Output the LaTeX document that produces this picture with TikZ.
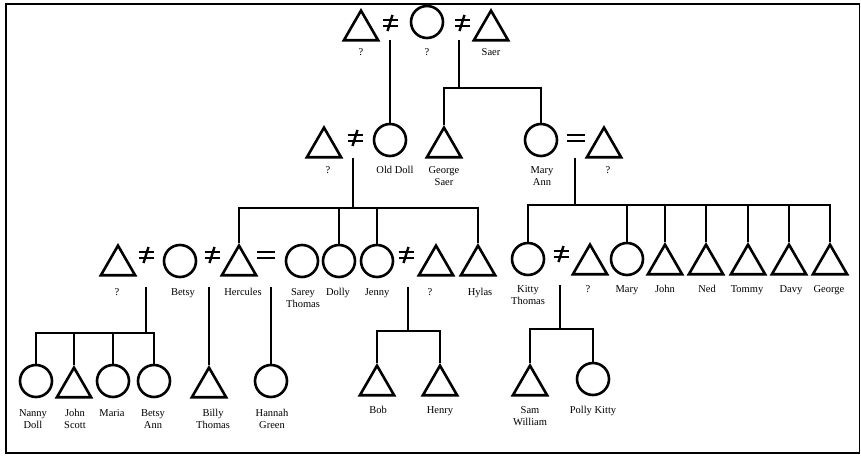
\documentclass[tikz,border=0pt]{standalone}
\usepackage{fontspec}
\setmainfont{Liberation Serif}
\usetikzlibrary{shapes.geometric}
\begin{document}
\begin{tikzpicture}[x=1pt,y=-1pt,
  lw/.style={line width=2.6pt},
  fem/.style={circle, draw, line width=2.6pt, minimum size=32pt, inner sep=0pt},
  male/.style={regular polygon, regular polygon sides=3, draw, line width=2.6pt, minimum size=39.5pt, inner sep=0pt, anchor=north},
  lab/.style={font=\fontsize{10.5}{12.5}\selectfont, align=center, inner sep=0pt, anchor=north},
  neqsym/.style={minimum width=16pt, minimum height=17pt, inner sep=0pt, path picture={
     \draw[line width=2.4pt] ([xshift=0.5pt,yshift=3.2pt]path picture bounding box.west) -- ([xshift=-0.5pt,yshift=3.2pt]path picture bounding box.east);
     \draw[line width=2.4pt] ([xshift=0.5pt,yshift=-3.2pt]path picture bounding box.west) -- ([xshift=-0.5pt,yshift=-3.2pt]path picture bounding box.east);
     \draw[line width=2.4pt] ([xshift=-2.5pt,yshift=-8pt]path picture bounding box.center) -- ([xshift=2.5pt,yshift=8pt]path picture bounding box.center);
  }},
  eqsym/.style={minimum width=18pt, minimum height=12pt, inner sep=0pt, path picture={
     \draw[line width=2.5pt] ([yshift=3.2pt]path picture bounding box.west) -- ([yshift=3.2pt]path picture bounding box.east);
     \draw[line width=2.5pt] ([yshift=-3.2pt]path picture bounding box.west) -- ([yshift=-3.2pt]path picture bounding box.east);
  }}
]
\useasboundingbox (0,0) rectangle (861,457);
\draw[line width=1.6pt] (6,4) rectangle (859.5,453);

% ---------- generation 1
\node[male] (g1a) at (361,8) {};
\node[neqsym] (m1) at (390,23) {};
\node[fem] (g1b) at (427,22) {};
\node[neqsym] (m2) at (462,23) {};
\node[male] (saer) at (491,8) {};
\node[lab] (l-g1a) at (361,48) {?};
\node[lab] (l-g1b) at (427,48) {?};
\node[lab] (l-saer) at (491,48) {Saer};

% ---------- generation 2
\node[male] (g2a) at (324,125) {};
\node[neqsym] (m3) at (355,138) {};
\node[fem] (olddoll) at (390,140) {};
\node[male] (georgesaer) at (444,125) {};
\node[fem] (maryann) at (541,140) {};
\node[eqsym] (m4) at (576,138) {};
\node[male] (g2b) at (604,125) {};
\node[lab] (l-g2a) at (328,166) {?};
\node[lab] (l-olddoll) at (395,166) {Old Doll};
\node[lab] (l-georgesaer) at (444,166) {George\\Saer};
\node[lab] (l-maryann) at (542,166) {Mary\\Ann};
\node[lab] (l-g2b) at (608,166) {?};

% ---------- generation 3
\node[male] (g3a) at (118,243) {};
\node[neqsym] (m5) at (146,255) {};
\node[fem] (betsy) at (180,261) {};
\node[neqsym] (m6) at (212,255) {};
\node[male] (hercules) at (239,243) {};
\node[eqsym] (m7) at (266,255) {};
\node[fem] (sarey) at (302,261) {};
\node[fem] (dolly) at (339,261) {};
\node[fem] (jenny) at (377,261) {};
\node[neqsym] (m8) at (406,255) {};
\node[male] (g3b) at (436,243) {};
\node[male] (hylas) at (478,243) {};

\node[fem] (kitty) at (528,259) {};
\node[neqsym] (m9) at (561,254) {};
\node[male] (g3c) at (590,242) {};
\node[fem] (mary) at (627,259) {};
\node[male] (john) at (665,242) {};
\node[male] (ned) at (706,242) {};
\node[male] (tommy) at (748,242) {};
\node[male] (davy) at (789,242) {};
\node[male] (george) at (830,242) {};

\node[lab] (l-g3a) at (117,288) {?};
\node[lab] (l-betsy) at (183,288) {Betsy};
\node[lab] (l-hercules) at (243,288) {Hercules};
\node[lab] (l-sarey) at (303,288) {Sarey\\Thomas};
\node[lab] (l-dolly) at (338,288) {Dolly};
\node[lab] (l-jenny) at (377,288) {Jenny};
\node[lab] (l-g3b) at (430,288) {?};
\node[lab] (l-hylas) at (480,288) {Hylas};
\node[lab] (l-kitty) at (528,285) {Kitty\\Thomas};
\node[lab] (l-g3c) at (588,285) {?};
\node[lab] (l-mary) at (627,285) {Mary};
\node[lab] (l-john) at (665,285) {John};
\node[lab] (l-ned) at (707,285) {Ned};
\node[lab] (l-tommy) at (747,285) {Tommy};
\node[lab] (l-davy) at (791,285) {Davy};
\node[lab] (l-george) at (829,285) {George};

% ---------- generation 4
\node[fem] (nanny) at (36,381) {};
\node[male] (johnscott) at (74,365) {};
\node[fem] (maria) at (113,381) {};
\node[fem] (betsyann) at (154,381) {};
\node[male] (billy) at (209,365) {};
\node[fem] (hannah) at (271,381) {};
\node[male] (bob) at (377,363) {};
\node[male] (henry) at (440,363) {};
\node[male] (sam) at (530,363) {};
\node[fem] (polly) at (593,379) {};

\node[lab] (l-nanny) at (33,409) {Nanny\\Doll};
\node[lab] (l-johnscott) at (75,409) {John\\Scott};
\node[lab] (l-maria) at (112,409) {Maria};
\node[lab] (l-betsyann) at (153,409) {Betsy\\Ann};
\node[lab] (l-billy) at (213,409) {Billy\\Thomas};
\node[lab] (l-hannah) at (272,409) {Hannah\\Green};
\node[lab] (l-bob) at (378,406) {Bob};
\node[lab] (l-henry) at (440,406) {Henry};
\node[lab] (l-sam) at (530,406) {Sam\\William};
\node[lab] (l-polly) at (593,406) {Polly Kitty};

% ---------- connector points
\coordinate (m1s) at (390,40);
\coordinate (m2s) at (459,40);
\coordinate (b1) at (459,88);
\coordinate (m3s) at (353,158);
\coordinate (b2) at (353,208);
\coordinate (m4s) at (575,158);
\coordinate (b3) at (575,205);
\coordinate (m5s) at (146,287);
\coordinate (b4) at (146,333);
\coordinate (m6s) at (209,287);
\coordinate (m7s) at (271,287);
\coordinate (m8s) at (408,287);
\coordinate (b5) at (408,331);
\coordinate (m9s) at (560,285);
\coordinate (b6) at (560,329);

% ---------- connectors
\draw[lw] (m1s) -- (olddoll.north);
\draw[lw] (m2s) -- (b1);
\draw[lw] (georgesaer.north) |- (b1) -| (maryann.north);

\draw[lw] (m3s) -- (b2);
\draw[lw] (hercules.north) |- (b2) -| (hylas.north);
\draw[lw] (dolly.north) -- (dolly.north |- b2);
\draw[lw] (jenny.north) -- (jenny.north |- b2);

\draw[lw] (m4s) -- (b3);
\draw[lw] (kitty.north) |- (b3) -| (george.north);
\foreach \c in {mary,john,ned,tommy,davy}
  \draw[lw] (\c.north) -- (\c.north |- b3);

\draw[lw] (m5s) -- (b4);
\draw[lw] (nanny.north) |- (b4) -| (betsyann.north);
\draw[lw] (johnscott.north) -- (johnscott.north |- b4);
\draw[lw] (maria.north) -- (maria.north |- b4);

\draw[lw] (m6s) -- (billy.north);
\draw[lw] (m7s) -- (hannah.north);

\draw[lw] (m8s) -- (b5);
\draw[lw] (bob.north) |- (b5) -| (henry.north);

\draw[lw] (m9s) -- (b6);
\draw[lw] (sam.north) |- (b6) -| (polly.north);
\end{tikzpicture}
\end{document}
